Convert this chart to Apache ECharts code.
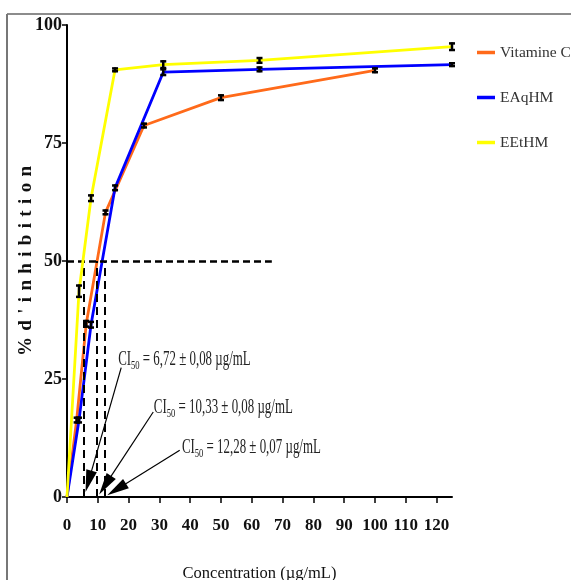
<!DOCTYPE html>
<html>
<head>
<meta charset="utf-8">
<script src="https://cdn.jsdelivr.net/npm/echarts@6.0.0/dist/echarts.min.js"></script>
<style>html,body{margin:0;padding:0;background:#fff}#c{width:571px;height:580px}</style>
</head>
<body>
<div id="c"></div>
<script>
// ---- data ----
const seriesNames = ['Vitamine C', 'EAqHM', 'EEtHM'];
const vitC_x = [0, 3.125, 6.25, 12.5, 25, 50, 100];
const vitC_y = [0, 16.3, 36.7, 60.3, 78.7, 84.6, 90.4];
const vitC_err = [0, 0.5, 0.6, 0.4, 0.4, 0.5, 0.4];
const eaq_x = [0, 3.9, 7.8, 15.6, 31.25, 62.5, 125];
const eaq_y = [0, 16.3, 36.5, 65.5, 90.0, 90.6, 91.6];
const eaq_err = [0, 0.5, 0.6, 0.5, 0.6, 0.4, 0.3];
const eet_x = [0, 3.9, 7.8, 15.6, 31.25, 62.5, 125];
const eet_y = [0, 43.6, 63.3, 90.5, 91.6, 92.5, 95.4];
const eet_err = [0, 1.2, 0.6, 0.3, 0.7, 0.5, 0.7];
const xTicks = [0, 10, 20, 30, 40, 50, 60, 70, 80, 90, 100, 110, 120];
const yTicks = [0, 25, 50, 75, 100];
// CI50 guide lines (x positions) and the 50 % level
const ci50_x = [5.4, 9.6, 12.1];
const halfLevel = 50;
const halfLineEnd = 66.5;
// annotation texts and their anchor / arrow points (data coords)
const annTexts = ['6,72 ± 0,08 µg/mL', '10,33 ± 0,08 µg/mL', '12,28 ± 0,07 µg/mL'];
const annAnchor = [[16.6, 29.6], [28.2, 19.4], [37.3, 10.9]];
const arrowFrom = [[17.6, 27.4], [28.0, 18.0], [36.6, 9.9]];
const arrowTo = [[7.0, 3.3], [12.4, 2.5], [16.1, 1.6]];

const colors = ['#FF6A1A', '#0000FF', '#FFFF00'];

function pairs(xs, ys) { return xs.map((x, i) => [x, ys[i]]); }
function errData(xs, ys, es) { return xs.map((x, i) => [x, ys[i], es[i]]); }

function errRender(params, api) {
  const x = api.value(0), y = api.value(1), e = api.value(2);
  const lo = api.coord([x, y - e]);
  const hi = api.coord([x, y + e]);
  const w = 3;
  const st = { stroke: '#000', lineWidth: 2.5 };
  return {
    type: 'group',
    children: [
      { type: 'line', shape: { x1: lo[0], y1: lo[1] + 1, x2: hi[0], y2: hi[1] - 1 }, style: st },
      { type: 'line', shape: { x1: lo[0] - w, y1: lo[1], x2: lo[0] + w, y2: lo[1] }, style: st },
      { type: 'line', shape: { x1: hi[0] - w, y1: hi[1], x2: hi[0] + w, y2: hi[1] }, style: st }
    ]
  };
}

const serif = '"Liberation Serif", "Times New Roman", serif';
const lineSeries = [[vitC_x, vitC_y], [eaq_x, eaq_y], [eet_x, eet_y]].map((d, i) => ({
  name: seriesNames[i],
  type: 'line',
  data: pairs(d[0], d[1]),
  symbol: 'none',
  lineStyle: { color: colors[i], width: 2.8 },
  itemStyle: { color: colors[i] },
  z: 3 + i
}));
const errSeries = [[vitC_x, vitC_y, vitC_err], [eaq_x, eaq_y, eaq_err], [eet_x, eet_y, eet_err]].map((d) => ({
  type: 'custom',
  renderItem: errRender,
  data: errData(d[0], d[1], d[2]).filter(p => p[0] > 0),
  z: 10,
  silent: true
}));

const guideSeries = {
  type: 'line',
  data: [],
  silent: true,
  markLine: {
    silent: true,
    symbol: ['none', 'none'],
    label: { show: false },
    animation: false,
    data: [
      [{ coord: [0, halfLevel], lineStyle: { type: [7, 4], width: 2.5, color: '#000' } }, { coord: [halfLineEnd, halfLevel] }]
    ].concat(ci50_x.map(x => [
      { coord: [x, 0], lineStyle: { type: [8, 5], width: 2, color: '#000' } }, { coord: [x, halfLevel] }
    ]))
  }
};
const arrowSeries = {
  type: 'line',
  data: [],
  silent: true,
  markLine: {
    silent: true,
    label: { show: false },
    animation: false,
    symbol: ['none', 'triangle'],
    symbolSize: [11, 22],
    lineStyle: { type: 'solid', width: 1.2, color: '#000' },
    itemStyle: { color: '#000' },
    data: arrowFrom.map((p, i) => [{ coord: p }, { coord: arrowTo[i] }])
  }
};

const chart = echarts.init(document.getElementById('c'));
chart.setOption({
  animation: false,
  backgroundColor: '#fff',
  grid: { left: 67, right: 119, top: 25, bottom: 83, containLabel: false, outerBoundsMode: 'none' },
  legend: {
    data: seriesNames,
    orient: 'vertical',
    left: 472,
    top: 37,
    icon: 'rect',
    itemWidth: 18,
    itemHeight: 3.5,
    itemGap: 24,
    textStyle: { fontFamily: serif, fontSize: 15.5, color: '#333', lineHeight: 21 }
  },
  xAxis: {
    type: 'value', min: 0, max: 125, interval: 10,
    name: 'Concentration (µg/mL)', nameLocation: 'middle', nameGap: 68, nameMoveOverlap: false,
    nameTextStyle: { fontFamily: serif, fontSize: 16.5, color: '#111' },
    axisLine: { lineStyle: { color: '#000', width: 2 } },
    axisTick: { show: true, length: 6, customValues: xTicks, lineStyle: { color: '#000', width: 1.5 } },
    axisLabel: { customValues: xTicks, margin: 20, fontFamily: serif, fontSize: 17, fontWeight: 'bold', color: '#111' },
    splitLine: { show: false }
  },
  yAxis: {
    type: 'value', min: 0, max: 100, interval: 25,
    name: '%\u2004d\u2004\'\u2004i\u2004n\u2004h\u2004i\u2004b\u2004i\u2004t\u2004i\u2004o\u2004n', nameLocation: 'middle', nameGap: 31, nameMoveOverlap: false,
    nameTextStyle: { fontFamily: serif, fontSize: 19, fontWeight: 'bold', color: '#111' },
    axisLine: { show: true, lineStyle: { color: '#000', width: 2 } },
    axisTick: { show: true, length: 5, customValues: yTicks, lineStyle: { color: '#000', width: 1.5 } },
    axisLabel: { customValues: yTicks, margin: 5, fontFamily: serif, fontSize: 18, fontWeight: 'bold', color: '#111' },
    splitLine: { show: false }
  },
  series: [guideSeries].concat(lineSeries, errSeries, [arrowSeries])
});

// frame + annotation texts (placed from data coordinates through the grid)
const graphics = [
  { type: 'line', shape: { x1: 7, y1: 14, x2: 571, y2: 14 }, style: { stroke: '#666', lineWidth: 1.5 } },
  { type: 'line', shape: { x1: 7, y1: 14, x2: 7, y2: 580 }, style: { stroke: '#777', lineWidth: 2 } }
];
annAnchor.forEach((p, i) => {
  const px = chart.convertToPixel({ gridIndex: 0 }, p);
  graphics.push({
    type: 'text',
    x: px[0], y: px[1],
    scaleX: 0.86, scaleY: 1.35,
    z: 20,
    style: {
      text: '{a|CI}{s|50}{a| = ' + annTexts[i] + '}',
      align: 'left',
      verticalAlign: 'middle',
      rich: {
        a: { fontFamily: serif, fontSize: 15, fill: '#222', lineHeight: 18, verticalAlign: 'bottom' },
        s: { fontFamily: serif, fontSize: 10, fill: '#222', lineHeight: 18, verticalAlign: 'bottom', padding: [0, 0, -2, 0] }
      }
    }
  });
});
chart.setOption({ graphic: graphics });
</script>
</body>
</html>
